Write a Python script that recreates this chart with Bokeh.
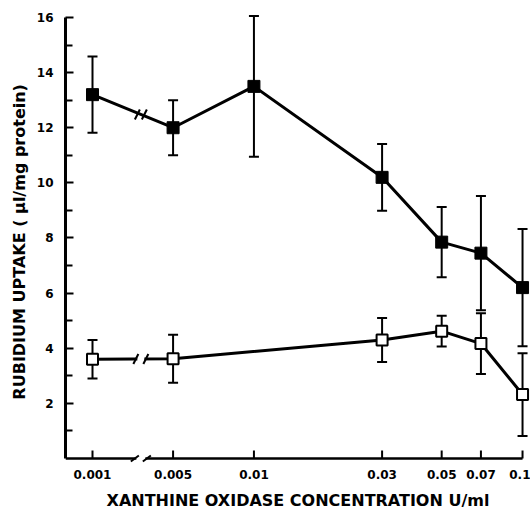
import math
from bokeh.plotting import figure
from bokeh.models import (ColumnDataSource, Whisker, TeeHead, FixedTicker,
                          CustomJSTickFormatter, Range1d)
from bokeh.embed import file_html
from bokeh.resources import INLINE

# ---------------- data ----------------
conc_labels = ["0.001", "0.005", "0.01", "0.03", "0.05", "0.07", "0.1"]
conc = [0.001, 0.005, 0.01, 0.03, 0.05, 0.07, 0.1]

filled_conc = [0.001, 0.005, 0.01, 0.03, 0.05, 0.07, 0.1]
filled_mean = [13.2, 12.0, 13.5, 10.2, 7.85, 7.45, 6.2]
filled_err = [1.38, 1.0, 2.55, 1.21, 1.27, 2.07, 2.13]

open_conc = [0.001, 0.005, 0.03, 0.05, 0.07, 0.1]
open_mean = [3.6, 3.62, 4.3, 4.62, 4.17, 2.32]
open_err = [0.7, 0.87, 0.8, 0.56, 1.1, 1.5]

y_ticks = [2, 4, 6, 8, 10, 12, 14, 16]
y_minor = [1, 3, 5, 7, 9, 11, 13, 15]

# ---------------- broken log axis ----------------
BREAK_GAP = 0.30  # decades shown between 0.001 and 0.005


def xpos(c):
    if c < 0.004:
        return math.log10(0.005) - BREAK_GAP
    return math.log10(c)


PX_DEC = 268.6     # screen px per decade
PX_UNIT = 27.625   # screen px per y unit

W, H = 530, 512
BL, BR, BT, BB = 65, 0, 0, 45
FW, FH = W - BL - BR, H - BT - BB

X0 = xpos(0.001) - 27 / PX_DEC
X1 = X0 + FW / PX_DEC
Y0 = -8 / PX_UNIT
Y1 = Y0 + FH / PX_UNIT
SX = 1 / PX_DEC
SY = 1 / PX_UNIT

p = figure(width=W, height=H, output_backend="svg", toolbar_location=None,
           x_range=Range1d(X0, X1), y_range=Range1d(Y0, Y1),
           min_border_left=BL, min_border_right=BR, min_border_top=BT,
           min_border_bottom=BB)
p.outline_line_color = None
p.xgrid.visible = False
p.ygrid.visible = False
p.background_fill_color = "white"

# ---------------- hand-drawn x axis line and ticks (at y = 0) ----------------
x_ticks = [xpos(c) for c in conc]
p.segment(x0=[X0], y0=[0], x1=[x_ticks[-1]], y1=[0],
          line_width=2.5, line_color="black")
p.segment(x0=x_ticks, y0=[0] * len(x_ticks), x1=x_ticks,
          y1=[8 * SY] * len(x_ticks), line_width=2, line_color="black")

# ---------------- error bars, lines, markers ----------------
fs = ColumnDataSource(dict(
    x=[xpos(c) for c in filled_conc], y=filled_mean,
    lo=[m - e for m, e in zip(filled_mean, filled_err)],
    hi=[m + e for m, e in zip(filled_mean, filled_err)]))
os_ = ColumnDataSource(dict(
    x=[xpos(c) for c in open_conc], y=open_mean,
    lo=[m - e for m, e in zip(open_mean, open_err)],
    hi=[m + e for m, e in zip(open_mean, open_err)]))

for src in (fs, os_):
    w = Whisker(source=src, base="x", lower="lo", upper="hi",
                dimension="height", line_width=2, line_color="black",
                upper_head=TeeHead(size=10, line_width=2, line_color="black"),
                lower_head=TeeHead(size=10, line_width=2, line_color="black"))
    p.add_layout(w)

p.line("x", "y", source=fs, line_width=3, line_color="black", level="overlay")
p.line("x", "y", source=os_, line_width=3, line_color="black", level="overlay")
p.scatter("x", "y", source=fs, marker="square", size=12,
          fill_color="black", line_color="black", level="overlay")
p.scatter("x", "y", source=os_, marker="square", size=11,
          fill_color="white", line_color="black", line_width=2,
          level="overlay")

# ---------------- break marks ----------------
xb = xpos(0.001) + 0.6 * (xpos(0.005) - xpos(0.001))


def interp(xs, ys, x):
    return ys[0] + (ys[1] - ys[0]) * (x - xs[0]) / (xs[1] - xs[0])


yb_f = interp([xpos(0.001), xpos(0.005)], filled_mean, xb)
yb_o = interp([xpos(0.001), xpos(0.005)], open_mean, xb)

gaps = dict(x=[xb, xb], y=[yb_o, 0.0], w=[7, 9], h=[9, 7])
p.rect("x", "y", width="w", height="h", width_units="screen",
       height_units="screen", source=ColumnDataSource(gaps),
       fill_color="white", line_color=None, level="overlay")

seg = dict(x0=[], y0=[], x1=[], y1=[])


def slashes(xc, yc, sep, dx, dy):
    for s in (-sep, sep):
        seg["x0"].append(xc + (s - dx) * SX)
        seg["y0"].append(yc - dy * SY)
        seg["x1"].append(xc + (s + dx) * SX)
        seg["y1"].append(yc + dy * SY)


slashes(xb, yb_f, 3.5, 2.5, 5)
slashes(xb, yb_o, 5, 2.5, 5)
slashes(xb, 0.0, 6, 4, 3)
p.segment("x0", "y0", "x1", "y1", source=ColumnDataSource(seg),
          line_width=2, line_color="black", level="overlay")

# ---------------- axes ----------------
p.xaxis.ticker = FixedTicker(ticks=x_ticks, minor_ticks=[])
p.xaxis.formatter = CustomJSTickFormatter(
    args=dict(pos=x_ticks, labels=conc_labels),
    code="""let b = 0;
for (let i = 0; i < pos.length; i++) {
  if (Math.abs(pos[i] - tick) < Math.abs(pos[b] - tick)) b = i;
}
return labels[b];""")
p.yaxis.ticker = FixedTicker(ticks=y_ticks, minor_ticks=y_minor)
p.yaxis.bounds = (0, 16)

p.xaxis.axis_label = "XANTHINE OXIDASE CONCENTRATION U/ml"
p.yaxis.axis_label = "RUBIDIUM UPTAKE ( \u00b5l/mg protein)\u00a0\u00a0\u00a0"

for ax in (p.xaxis, p.yaxis):
    ax.major_label_text_font = "DejaVu Sans"
    ax.major_label_text_font_style = "bold"
    ax.major_label_text_font_size = "12px"
    ax.major_label_text_color = "black"
    ax.axis_label_text_font = "DejaVu Sans"
    ax.axis_label_text_font_style = "bold"
    ax.axis_label_text_font_size = "16px"
    ax.axis_label_text_color = "black"

p.xaxis.axis_line_color = None
p.xaxis.major_tick_line_color = None
p.xaxis.major_tick_in = 0
p.xaxis.major_tick_out = 0
p.xaxis.major_label_standoff = 3
p.xaxis.axis_label_standoff = 9

p.yaxis.axis_line_width = 3
p.yaxis.axis_line_color = "black"
p.yaxis.major_tick_in = 8
p.yaxis.major_tick_out = 0
p.yaxis.minor_tick_in = 7
p.yaxis.minor_tick_out = 0
p.yaxis.major_tick_line_width = 2
p.yaxis.minor_tick_line_width = 2
p.yaxis.major_tick_line_color = "black"
p.yaxis.minor_tick_line_color = "black"
p.yaxis.major_label_standoff = 12
p.yaxis.axis_label_standoff = 5

open("out.html", "w").write(file_html(p, INLINE))
